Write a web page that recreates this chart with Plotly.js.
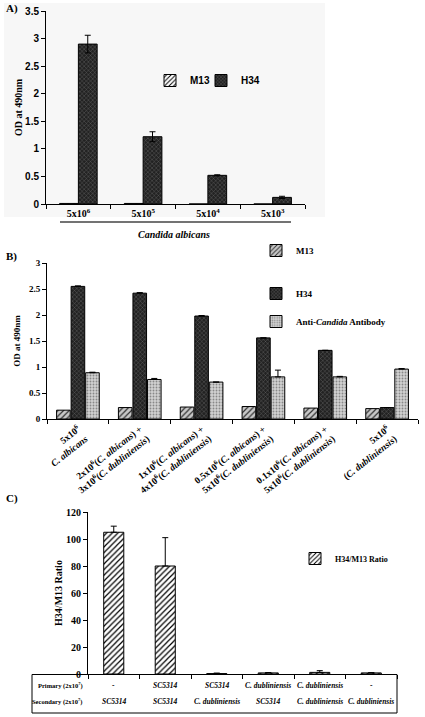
<!DOCTYPE html>
<html><head><meta charset="utf-8">
<script src="https://cdn.plot.ly/plotly-3.0.1.min.js"></script>
<style>html,body{margin:0;padding:0;background:#fff}#chart{width:425px;height:717px}</style>
</head><body><div id="chart"></div>
<script>
// ---------- Panel A ----------
const catA = ['5x10<sup>6</sup>','5x10<sup>5</sup>','5x10<sup>4</sup>','5x10<sup>3</sup>'];
const m13A = [0.01, 0.01, 0.0, 0.0];
const h34A = [2.90, 1.22, 0.52, 0.12];
const h34AErr = [0.16, 0.09, 0.01, 0.02];
const titleXA = 'Candida albicans';

// ---------- Panel B ----------
const catB = [
  '5x10<sup>6</sup><br><i>C. albicans</i>',
  '2x10<sup>6</sup>(<i>C. albicans</i>) +<br>3x10<sup>6</sup>(<i>C. dubliniensis</i>)',
  '1x10<sup>6</sup>(<i>C. albicans</i>) +<br>4x10<sup>6</sup>(<i>C. dubliniensis</i>)',
  '0.5x10<sup>6</sup>(<i>C. albicans</i>) +<br>5x10<sup>6</sup>(<i>C. dubliniensis</i>)',
  '0.1x10<sup>6</sup>(<i>C. albicans</i>) +<br>5x10<sup>6</sup>(<i>C. dubliniensis</i>)',
  '5x10<sup>6</sup><br>(<i>C. dubliniensis</i>)'
];
const m13B = [0.17, 0.22, 0.23, 0.24, 0.21, 0.20];
const h34B = [2.55, 2.42, 1.98, 1.56, 1.32, 0.22];
const h34BErr = [0.01, 0.01, 0.01, 0.0, 0.0, 0.0];
const antiB = [0.89, 0.76, 0.71, 0.81, 0.81, 0.96];
const antiBErr = [0.01, 0.02, 0.0, 0.13, 0.01, 0.01];

// ---------- Panel C ----------
const catC = ['c1','c2','c3','c4','c5','c6'];
const ratioC = [105, 80, 0.3, 0.8, 1.2, 0.8];
const ratioCErr = [4.5, 21, 0.4, 0.3, 1.3, 0.2];
const primaryC = ['-', '<i>SC5314</i>', '<i>SC5314</i>', '<i>C. dubliniensis</i>', '<i>C. dubliniensis</i>', '-'];
const secondaryC = ['<i>SC5314</i>', '<i>SC5314</i>', '<i>C. dubliniensis</i>', '<i>SC5314</i>', '<i>C. dubliniensis</i>', '<i>C. dubliniensis</i>'];
const rowLabelsC = ['Primary (2x10<sup>7</sup>)', 'Secondary (2x10<sup>7</sup>)'];

const W = 425, H = 717;
const px = v => v / W;
const py = v => 1 - v / H;
const SERIF = 'Liberation Serif';
const SANS = 'Liberation Sans';

const hatch = {shape: '/', fgcolor: '#000', bgcolor: '#fff', size: 4, solidity: 0.3};
const hatchGray = {shape: '/', fgcolor: '#333', bgcolor: '#c8c8c8', size: 4, solidity: 0.3};
const dark = {shape: 'x', fgcolor: '#6a6a6a', bgcolor: '#222', size: 3, solidity: 0.25};
const light = {shape: '.', fgcolor: '#888', bgcolor: '#d2d2d2', size: 3, solidity: 0.3};
const outline = {color: '#000', width: 1};
const errStyle = {color: '#000', thickness: 1, width: 3};
const zeros6 = [0,0,0,0,0,0];

const traces = [
  {type: 'bar', name: 'M13', x: catA, y: m13A, xaxis: 'x', yaxis: 'y', width: 0.29, offset: -0.29,
   marker: {line: outline, pattern: hatch}, legend: 'legend6', showlegend: true},
  {type: 'bar', name: 'H34', x: catA, y: h34A, xaxis: 'x', yaxis: 'y', width: 0.29, offset: 0.0,
   marker: {line: outline, pattern: dark}, legend: 'legend5', showlegend: true,
   error_y: Object.assign({type: 'data', array: h34AErr, visible: true}, errStyle)},

  {type: 'bar', name: 'M13', x: catB, y: m13B, xaxis: 'x2', yaxis: 'y2', width: 0.22, offset: -0.345,
   marker: {line: outline, pattern: hatchGray}, legend: 'legend2', legendgroup: 'b1', showlegend: true},
  {type: 'bar', name: 'H34', x: catB, y: h34B, xaxis: 'x2', yaxis: 'y2', width: 0.22, offset: -0.11,
   marker: {line: outline, pattern: dark}, legend: 'legend2', legendgroup: 'b2', showlegend: true,
   error_y: Object.assign({type: 'data', array: h34BErr, arrayminus: zeros6, symmetric: false, visible: true}, errStyle)},
  {type: 'bar', name: 'Anti-<i>Candida</i> Antibody', x: catB, y: antiB, xaxis: 'x2', yaxis: 'y2', width: 0.22, offset: 0.125,
   marker: {line: outline, pattern: light}, legend: 'legend3', showlegend: true,
   error_y: Object.assign({type: 'data', array: antiBErr, arrayminus: zeros6, symmetric: false, visible: true}, errStyle)},

  {type: 'bar', name: 'H34/M13 Ratio', x: catC, y: ratioC, xaxis: 'x3', yaxis: 'y3', width: 0.39,
   marker: {line: outline, pattern: hatch}, legend: 'legend4', showlegend: true,
   error_y: Object.assign({type: 'data', array: ratioCErr, arrayminus: zeros6, symmetric: false, visible: true}, errStyle)}
];

const axLine = {showline: true, linecolor: '#000', linewidth: 1, showgrid: false, zeroline: false, ticks: 'outside', ticklen: 4, tickcolor: '#000'};

function note(text, x, y, size, opts) {
  return Object.assign({text: text, x: x, y: y, xref: 'paper', yref: 'paper', xanchor: 'center', yanchor: 'middle',
    showarrow: false, font: {family: SERIF, size: size, weight: 'bold', color: '#000'}}, opts || {});
}

const annotations = [
  note('A)', px(4), py(9), 11, {xanchor: 'left'}),
  note('B)', px(4), py(256), 11, {xanchor: 'left'}),
  note('C)', px(4), py(498), 11, {xanchor: 'left'}),
  note('<i>' + titleXA + '</i>', px(174), py(234), 10)
];
rowLabelsC.forEach((t, r) => {
  annotations.push(note(t, px(85), py(r === 0 ? 685 : 701), 6.5, {xanchor: 'right'}));
});
[primaryC, secondaryC].forEach((row, r) => {
  row.forEach((t, i) => {
    annotations.push(note(t, i, py(r === 0 ? 685 : 701), 7.5, {xref: 'x3'}));
  });
});

const shapes = [
  {type: 'rect', xref: 'paper', yref: 'paper', x0: px(4), x1: px(325), y0: py(217), y1: py(3),
   fillcolor: '#f7f7f7', line: {width: 0}, layer: 'below'},
  {type: 'line', xref: 'paper', yref: 'paper', x0: px(60), x1: px(291), y0: py(222), y1: py(222),
   line: {color: '#444', width: 1.5}},
  // table borders
  {type: 'line', xref: 'paper', yref: 'paper', x0: px(32), x1: px(88), y0: py(674.5), y1: py(674.5), line: {color: '#000', width: 1}},
  {type: 'line', xref: 'paper', yref: 'paper', x0: px(32), x1: px(32), y0: py(674.5), y1: py(713), line: {color: '#000', width: 1}},
  {type: 'line', xref: 'paper', yref: 'paper', x0: px(32), x1: px(397), y0: py(713), y1: py(713), line: {color: '#000', width: 1}},
  {type: 'line', xref: 'paper', yref: 'paper', x0: px(397), x1: px(397), y0: py(674.5), y1: py(713), line: {color: '#000', width: 1}}
];

const legBase = {xanchor: 'left', yanchor: 'top', bgcolor: 'rgba(0,0,0,0)'};

const layout = {
  width: W, height: H,
  margin: {l: 0, r: 0, t: 0, b: 0},
  paper_bgcolor: 'rgba(0,0,0,0)', plot_bgcolor: 'rgba(0,0,0,0)',
  barmode: 'overlay',
  showlegend: true,
  font: {family: SERIF, color: '#000'},
  xaxis: Object.assign({}, axLine, {domain: [px(46), px(305)], anchor: 'y', tickson: 'boundaries', type: 'category',
    tickfont: {family: SERIF, size: 10, weight: 'bold'}}),
  yaxis: Object.assign({}, axLine, {domain: [py(204), py(11)], anchor: 'x', range: [0, 3.5], dtick: 0.5,
    tickfont: {family: SANS, size: 10, weight: 'bold'},
    title: {text: 'OD at 490nm', font: {family: SERIF, size: 10, weight: 'bold'}, standoff: 0}}),
  xaxis2: Object.assign({}, axLine, {domain: [px(47), px(418)], anchor: 'y2', tickson: 'boundaries', type: 'category', tickangle: -38,
    tickfont: {family: SERIF, size: 9.5, weight: 'bold'}}),
  yaxis2: Object.assign({}, axLine, {domain: [py(419), py(263)], anchor: 'x2', range: [0, 3], dtick: 0.5,
    tickfont: {family: SERIF, size: 9, weight: 'bold'},
    title: {text: 'OD at 490nm', font: {family: SERIF, size: 9, weight: 'bold'}, standoff: 6}}),
  xaxis3: Object.assign({}, axLine, {domain: [px(88), px(397)], anchor: 'y3', tickson: 'boundaries', type: 'category',
    showticklabels: false}),
  yaxis3: Object.assign({}, axLine, {domain: [py(674), py(512)], anchor: 'x3', range: [0, 120], dtick: 20,
    tickfont: {family: SERIF, size: 10, weight: 'bold'},
    title: {text: 'H34/M13 Ratio', font: {family: SERIF, size: 10, weight: 'bold'}, standoff: 1}}),
  legend6: Object.assign({}, legBase, {x: px(150), y: py(66), font: {family: SANS, size: 10, weight: 'bold'}}),
  legend5: Object.assign({}, legBase, {x: px(201), y: py(66), font: {family: SANS, size: 10, weight: 'bold'}}),
  legend2: Object.assign({}, legBase, {x: px(256), y: py(236), tracegroupgap: 24,
    font: {family: SERIF, size: 9, weight: 'bold'}}),
  legend3: Object.assign({}, legBase, {x: px(256), y: py(307), font: {family: SERIF, size: 9, weight: 'bold'}}),
  legend4: Object.assign({}, legBase, {x: px(295), y: py(544), font: {family: SERIF, size: 8, weight: 'bold'}}),
  annotations: annotations,
  shapes: shapes
};

Plotly.newPlot('chart', traces, layout, {displayModeBar: false, staticPlot: true});
</script></body></html>
